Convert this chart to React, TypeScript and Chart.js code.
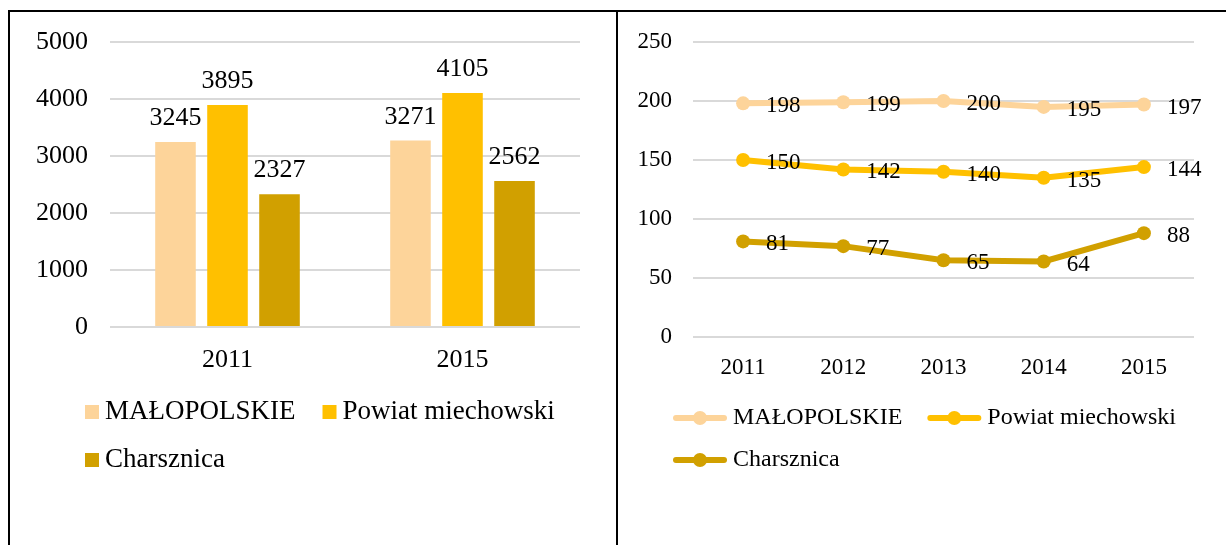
import React, { useEffect, useRef } from 'react';
import { Chart, registerables } from 'chart.js';

Chart.register(...registerables);

const FONT = "'Times New Roman', 'Liberation Serif', serif";

const seriesNames = ['MAŁOPOLSKIE', 'Powiat miechowski', 'Charsznica'];
const seriesColors = ['#FDD49A', '#FFC000', '#D1A000'];

const barYears = ['2011', '2015'];
const barMalopolskie = [3245, 3271];
const barPowiat = [3895, 4105];
const barCharsznica = [2327, 2562];
const barAxis = { min: 0, max: 5000, step: 1000 };

const lineYears = ['2011', '2012', '2013', '2014', '2015'];
const lineMalopolskie = [198, 199, 200, 195, 197];
const linePowiat = [150, 142, 140, 135, 144];
const lineCharsznica = [81, 77, 65, 64, 88];
const lineAxis = { min: 0, max: 250, step: 50 };

const valueLabelPlugin = {
  id: 'valueLabels',
  afterDatasetsDraw(chart: any, _args: any, opts: any) {
    const ctx = chart.ctx;
    ctx.save();
    ctx.font = `${opts.size}px ${FONT}`;
    ctx.fillStyle = '#000';
    chart.data.datasets.forEach((ds: any, i: number) => {
      const meta = chart.getDatasetMeta(i);
      meta.data.forEach((el: any, j: number) => {
        const v = String(ds.data[j]);
        if (opts.mode === 'top') {
          ctx.textAlign = 'center';
          ctx.textBaseline = 'alphabetic';
          ctx.fillText(v, el.x, el.y - opts.dy);
        } else {
          ctx.textAlign = 'left';
          ctx.textBaseline = 'middle';
          ctx.fillText(v, el.x + opts.dx, el.y + opts.dy);
        }
      });
    });
    ctx.restore();
  },
};

const customLegendPlugin = {
  id: 'customLegend',
  afterDraw(chart: any, _args: any, opts: any) {
    const ctx = chart.ctx;
    ctx.save();
    ctx.font = `${opts.size}px ${FONT}`;
    ctx.textBaseline = 'middle';
    ctx.textAlign = 'left';
    let x = opts.x;
    let row = 0;
    chart.data.datasets.forEach((ds: any, i: number) => {
      if (i > 0 && i % opts.perRow === 0) {
        row++;
        x = opts.x;
      }
      const y = opts.y + row * opts.rowGap;
      const color = opts.icon === 'box' ? ds.backgroundColor : ds.borderColor;
      if (opts.icon === 'box') {
        ctx.fillStyle = color;
        ctx.fillRect(x, y - opts.box / 2, opts.box, opts.box);
      } else {
        ctx.strokeStyle = color;
        ctx.lineWidth = 6;
        ctx.lineCap = 'round';
        ctx.beginPath();
        ctx.moveTo(x + 3, y);
        ctx.lineTo(x + opts.iconW - 3, y);
        ctx.stroke();
        ctx.fillStyle = color;
        ctx.beginPath();
        ctx.arc(x + opts.iconW / 2, y, 7, 0, Math.PI * 2);
        ctx.fill();
      }
      const tx = x + opts.iconW + opts.textGap;
      ctx.fillStyle = '#000';
      ctx.fillText(ds.label, tx, y);
      x = tx + ctx.measureText(ds.label).width + opts.itemGap;
    });
    ctx.restore();
  },
};

function fitY(width: number) {
  return (s: any) => {
    s.width = width;
    s.paddingTop = 0;
    s.paddingBottom = 0;
  };
}

function fitX(height: number) {
  return (s: any) => {
    s.height = height;
    s.paddingLeft = 0;
    s.paddingRight = 0;
  };
}

function BarPanel() {
  const ref = useRef<HTMLCanvasElement>(null);
  useEffect(() => {
    const values = [barMalopolskie, barPowiat, barCharsznica];
    const chart = new Chart(ref.current as HTMLCanvasElement, {
      type: 'bar',
      data: {
        labels: barYears,
        datasets: seriesNames.map((name, i) => ({
          label: name,
          data: values[i],
          backgroundColor: seriesColors[i],
          borderWidth: 0,
          categoryPercentage: 0.664,
          barPercentage: 0.78,
        })),
      },
      options: {
        responsive: false,
        animation: false,
        devicePixelRatio: 1,
        layout: { padding: { left: 0, top: 30, right: 36, bottom: 0 } },
        plugins: {
          legend: { display: false },
          tooltip: { enabled: false },
          valueLabels: { mode: 'top', size: 26, dy: 17 },
          customLegend: { icon: 'box', x: 75, y: 400, rowGap: 48, perRow: 2, size: 27, box: 14, iconW: 14, textGap: 6, itemGap: 27 },
        } as any,
        scales: {
          x: {
            grid: { display: false },
            border: { display: false },
            ticks: { color: '#000', font: { family: FONT, size: 26 }, padding: 10 },
            afterFit: fitX(218),
          },
          y: {
            min: barAxis.min,
            max: barAxis.max,
            grid: { color: '#d9d9d9', lineWidth: 2, drawTicks: false },
            border: { display: false },
            ticks: {
              stepSize: barAxis.step,
              color: '#000',
              font: { family: FONT, size: 26 },
              padding: 22,
              callback: (v: any) => String(v),
            },
            afterFit: fitY(100),
          },
        },
      },
      plugins: [valueLabelPlugin, customLegendPlugin],
    });
    return () => chart.destroy();
  }, []);
  return <canvas ref={ref} width={606} height={533} style={{ display: 'block' }} />;
}

function LinePanel() {
  const ref = useRef<HTMLCanvasElement>(null);
  useEffect(() => {
    const values = [lineMalopolskie, linePowiat, lineCharsznica];
    const chart = new Chart(ref.current as HTMLCanvasElement, {
      type: 'line',
      data: {
        labels: lineYears,
        datasets: seriesNames.map((name, i) => ({
          label: name,
          data: values[i],
          borderColor: seriesColors[i],
          backgroundColor: seriesColors[i],
          pointBackgroundColor: seriesColors[i],
          pointBorderWidth: 0,
          pointRadius: 7,
          borderWidth: 6,
          tension: 0,
          fill: false,
        })),
      },
      options: {
        responsive: false,
        animation: false,
        devicePixelRatio: 1,
        layout: { padding: { left: 0, top: 30, right: 32, bottom: 0 } },
        plugins: {
          legend: { display: false },
          tooltip: { enabled: false },
          valueLabels: { mode: 'right', size: 23, dx: 23, dy: 3 },
          customLegend: { icon: 'line', x: 55, y: 406, rowGap: 42, perRow: 2, size: 24, iconW: 54, textGap: 6, itemGap: 25 },
        } as any,
        scales: {
          x: {
            offset: true,
            grid: { display: false },
            border: { display: false },
            ticks: { color: '#000', font: { family: FONT, size: 23 }, padding: 9 },
            afterFit: fitX(208),
          },
          y: {
            min: lineAxis.min,
            max: lineAxis.max,
            grid: { color: '#d9d9d9', lineWidth: 2, drawTicks: false },
            border: { display: false },
            ticks: { stepSize: lineAxis.step, color: '#000', font: { family: FONT, size: 23 }, padding: 21 },
            afterFit: fitY(75),
          },
        },
      },
      plugins: [valueLabelPlugin, customLegendPlugin],
    });
    return () => chart.destroy();
  }, []);
  return <canvas ref={ref} width={608} height={533} style={{ display: 'block' }} />;
}

export default function App() {
  return (
    <div style={{ position: 'absolute', left: 0, top: 0, width: 1226, height: 545, overflow: 'hidden', background: '#fff' }}>
      <div style={{ position: 'absolute', left: 8, top: 10, width: 1230, height: 540, borderTop: '2px solid #000', borderLeft: '2px solid #000' }} />
      <div style={{ position: 'absolute', left: 616, top: 10, width: 2, height: 540, background: '#000' }} />
      <div style={{ position: 'absolute', left: 10, top: 12 }}>
        <BarPanel />
      </div>
      <div style={{ position: 'absolute', left: 618, top: 12 }}>
        <LinePanel />
      </div>
    </div>
  );
}
